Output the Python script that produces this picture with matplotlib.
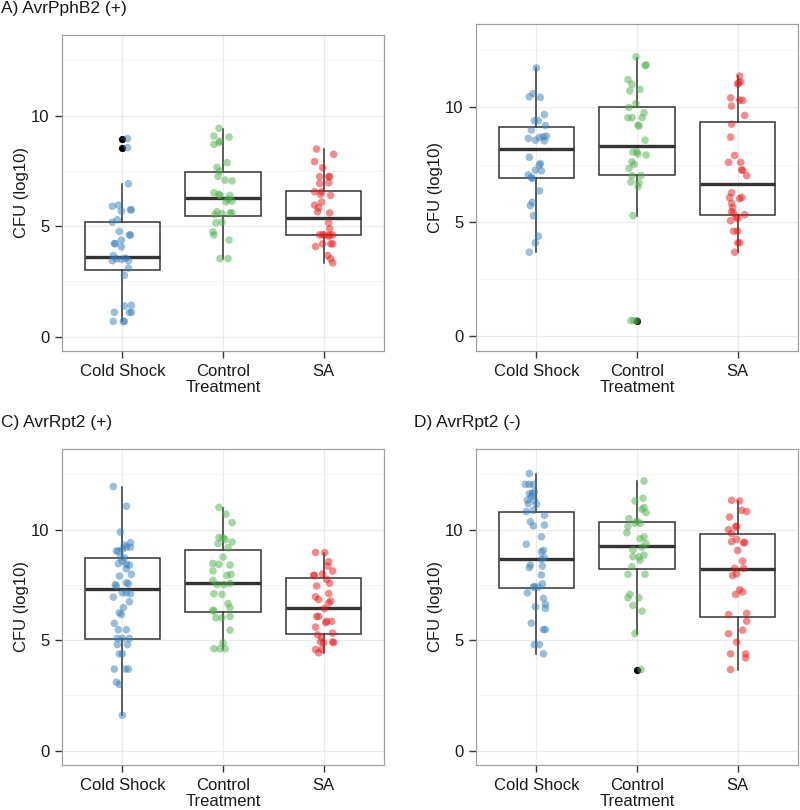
import matplotlib
matplotlib.use("Agg")
import matplotlib.pyplot as plt

plt.rcParams['font.family'] = ['Liberation Sans', 'DejaVu Sans']

groups = ["Cold Shock", "Control\nTreatment", "SA"]
colors = ["#377EB8", "#4DAF4A", "#E41A1C"]
titles = ["A) AvrPphB2 (+)", "", "C) AvrRpt2 (+)", "D) AvrRpt2 (-)"]

# --- panel A: CFU values and jitter offsets ---
a_cold_y = [8.96, 8.55, 6.92, 5.95, 5.9, 5.74, 5.74, 5.68, 5.29, 5.18, 4.76, 4.6, 4.6, 4.37, 4.21, 4.21, 4.06,
            3.67, 3.55, 3.52, 3.49, 3.44, 3.44, 3.1, 2.78, 1.42, 1.39, 1.1, 1.1, 1.1, 0.69, 0.69, 0.69]
a_cold_dx = [0.05, 0.05, 0.06, -0.04, -0.10, 0.09, 0.08, -0.01, -0.05, -0.10, -0.03, 0.08, 0.07, -0.01, -0.07, -0.08, -0.01,
             -0.09, 0.03, -0.06, -0.01, -0.10, 0.06, 0.06, 0.02, 0.09, 0.02, -0.08, 0.09, 0.07, -0.09, 0.01, 0.02]
a_ctrl_y = [9.43, 9.08, 9.03, 8.85, 8.7, 8.78, 7.87, 7.66, 7.49, 7.25, 7.08, 7.05, 6.51, 6.44, 6.39, 6.39, 6.21,
            6.13, 6.1, 5.65, 5.57, 5.6, 5.6, 5.53, 5.15, 5.18, 4.74, 4.6, 4.37, 3.53, 3.53]
a_ctrl_dx = [-0.04, -0.09, 0.06, -0.03, -0.09, -0.04, 0.04, -0.06, -0.03, -0.05, 0.02, 0.09, -0.09, -0.04, -0.03, 0.07, 0.05,
             0.09, 0.03, -0.06, -0.01, 0.07, 0.09, -0.08, -0.07, -0.01, -0.10, -0.09, 0.06, -0.03, 0.05]
a_sa_y = [8.49, 8.25, 7.92, 7.64, 7.24, 7.24, 7.24, 6.93, 6.96, 6.56, 6.56, 6.44, 6.39, 5.95, 6.09, 5.83, 5.65,
          5.6, 5.15, 4.88, 4.6, 4.6, 4.6, 4.6, 4.62, 4.54, 4.08, 4.2, 4.2, 4.2, 3.67, 3.52, 3.34]
a_sa_dx = [-0.07, 0.10, -0.09, -0.01, -0.04, 0.05, 0.06, -0.04, 0.05, -0.09, -0.02, -0.03, 0.07, -0.09, -0.02, -0.05, -0.06,
           0.06, 0.05, 0.06, -0.04, 0.01, 0.06, 0.09, -0.01, 0.05, -0.08, -0.01, 0.07, 0.09, 0.04, 0.07, 0.09]

# --- panel B ---
b_cold_y = [11.73, 10.47, 10.61, 10.44, 9.69, 9.42, 9.42, 9.21, 9.01, 8.65, 8.57, 8.69, 8.54, 8.75, 8.72, 7.82,
            7.55, 7.48, 7.26, 7.23, 7.05, 6.94, 6.89, 6.35, 5.85, 5.71, 5.27, 4.37, 4.08, 3.67]
b_cold_dx = [0.0, -0.07, -0.03, 0.04, 0.08, -0.02, 0.02, 0.09, -0.05, -0.08, -0.01, 0.03, 0.08, 0.10, 0.07, -0.07,
             0.04, 0.03, -0.01, 0.05, -0.08, -0.05, -0.04, 0.03, -0.04, -0.06, -0.03, 0.02, -0.01, -0.07]
b_ctrl_y = [12.21, 11.83, 11.86, 11.22, 11.02, 10.73, 10.79, 10.17, 10.0, 9.77, 9.55, 9.55, 9.55, 9.23, 9.19, 8.57,
            8.06, 8.05, 7.96, 7.92, 7.63, 7.51, 7.34, 7.02, 7.02, 6.74, 6.71, 6.54, 5.27, 0.68, 0.68, 0.68]
b_ctrl_dx = [-0.01, 0.08, 0.09, -0.09, -0.05, -0.07, 0.03, -0.01, -0.08, 0.07, -0.09, -0.05, 0.05, 0.01, 0.02, 0.08,
             0.0, -0.04, 0.01, 0.09, -0.05, -0.03, -0.08, -0.05, 0.04, -0.06, 0.02, 0.01, -0.04, -0.06, -0.03, 0.0]
b_sa_y = [11.37, 11.08, 11.12, 11.02, 10.42, 10.32, 10.31, 10.06, 9.65, 9.27, 8.7, 7.9, 7.6, 7.6, 7.26, 7.26, 7.02,
          6.27, 6.06, 6.01, 6.07, 5.81, 5.63, 5.44, 5.37, 5.31, 5.2, 5.14, 5.05, 4.59, 4.59, 4.09, 4.08, 3.67]
b_sa_dx = [0.02, 0.01, 0.03, 0.0, -0.07, 0.02, 0.05, -0.06, 0.07, -0.06, -0.07, -0.03, -0.09, 0.03, 0.04, 0.05, 0.09,
           -0.06, -0.08, 0.02, 0.04, -0.06, -0.05, -0.06, -0.04, 0.07, -0.01, 0.0, -0.07, -0.04, 0.0, 0.02, 0.0, -0.03]

# --- panel C ---
c_cold_y = [11.95, 11.06, 9.89, 9.3, 9.41, 9.21, 9.21, 9.03, 9.11, 9.03, 8.76, 8.58, 8.73, 8.43, 8.4, 8.46, 8.23,
            7.98, 7.9, 7.52, 7.45, 7.6, 7.55, 6.95, 7.14, 7.14, 7.1, 6.74, 6.47, 6.24, 6.16, 5.76, 5.47, 5.47,
            5.08, 5.08, 5.08, 4.8, 4.8, 4.38, 4.38, 3.69, 3.69, 3.69, 3.1, 3.0, 1.6]
c_cold_dx = [-0.09, 0.04, -0.02, 0.02, 0.08, 0.04, 0.08, -0.04, 0.0, -0.06, -0.02, 0.0, 0.02, 0.04, 0.07, -0.04, 0.04,
             0.09, -0.03, -0.07, -0.06, 0.04, 0.06, -0.09, 0.0, 0.04, 0.08, 0.07, 0.01, -0.03, -0.01, -0.08, -0.04, 0.04,
             -0.05, 0.0, 0.07, -0.05, 0.05, -0.03, 0.0, -0.08, 0.03, 0.06, -0.06, -0.03, 0.0]
c_ctrl_y = [11.01, 10.7, 10.32, 9.64, 9.64, 9.55, 9.37, 9.44, 9.18, 8.76, 8.47, 8.43, 8.4, 8.13, 7.98, 7.93, 7.7,
            7.52, 7.51, 7.57, 7.1, 7.07, 6.65, 6.47, 6.36, 6.31, 6.07, 6.01, 6.01, 5.45, 4.88, 4.61, 4.61, 4.61]
c_ctrl_dx = [-0.04, 0.03, 0.09, -0.04, 0.0, 0.02, -0.05, 0.09, 0.05, 0.0, -0.10, -0.04, 0.07, -0.10, 0.08, 0.04, -0.10,
             -0.06, 0.01, 0.07, -0.09, -0.01, 0.05, 0.07, -0.10, -0.09, 0.07, -0.07, -0.01, 0.07, 0.0, -0.09, -0.03, 0.02]
c_sa_y = [8.97, 8.96, 8.55, 8.35, 8.13, 8.0, 7.93, 7.93, 7.75, 7.57, 7.45, 7.11, 6.96, 6.84, 6.77, 6.68, 6.43,
          6.07, 6.07, 5.85, 5.85, 5.79, 5.59, 5.24, 5.11, 5.32, 4.92, 4.88, 4.92, 4.89, 4.58, 4.43, 4.58]
c_sa_dx = [-0.08, 0.01, 0.05, 0.04, 0.09, -0.01, -0.10, -0.09, 0.03, 0.06, -0.07, 0.05, -0.08, -0.05, 0.07, 0.05, 0.01,
           -0.07, -0.05, 0.03, 0.08, 0.02, -0.08, -0.06, -0.02, 0.09, -0.03, 0.0, 0.09, 0.10, -0.08, -0.05, -0.02]

# --- panel D ---
d_cold_y = [12.54, 12.05, 12.05, 12.05, 11.63, 11.63, 11.5, 11.72, 11.34, 11.33, 11.15, 11.18, 10.82, 10.88, 10.65,
            10.36, 10.17, 10.21, 9.68, 9.34, 9.06, 9.0, 8.73, 8.66, 8.4, 8.28, 8.35, 7.95, 7.55, 7.43, 7.4, 7.4,
            7.14, 6.89, 6.51, 6.62, 6.44, 5.77, 5.48, 5.48, 4.8, 4.8, 4.38]
d_cold_dx = [-0.07, -0.11, -0.07, -0.03, -0.07, -0.04, -0.05, -0.02, -0.09, -0.02, 0.0, -0.08, -0.10, -0.03, 0.08,
             -0.06, -0.03, 0.08, 0.05, -0.10, 0.07, 0.05, 0.08, 0.05, -0.06, -0.07, 0.06, 0.05, 0.06, -0.02, -0.03, 0.02,
             -0.09, 0.07, -0.01, 0.09, 0.09, -0.05, 0.07, 0.09, -0.02, 0.03, 0.07]
d_ctrl_y = [12.2, 11.3, 11.42, 11.0, 10.77, 10.92, 10.5, 10.39, 10.29, 10.29, 10.15, 9.86, 9.67, 9.59, 9.37, 9.21,
            9.08, 8.85, 8.78, 8.76, 8.61, 8.32, 7.98, 7.98, 7.07, 6.92, 6.92, 6.57, 6.31, 5.3, 3.67]
d_ctrl_dx = [0.07, -0.02, 0.06, 0.07, 0.09, 0.05, -0.08, 0.0, 0.03, -0.02, -0.09, -0.10, 0.07, 0.03, 0.09, 0.05,
             -0.04, 0.07, -0.04, 0.02, 0.03, -0.05, -0.09, 0.08, -0.07, -0.09, 0.02, -0.04, 0.05, -0.02, 0.04]
d_sa_y = [11.33, 11.3, 10.88, 10.82, 10.57, 10.14, 10.14, 10.0, 9.82, 9.46, 9.56, 9.4, 9.43, 9.06, 8.58, 8.25, 8.25,
          7.92, 8.0, 7.28, 7.18, 7.07, 6.16, 6.21, 5.86, 5.45, 5.29, 4.91, 4.38, 4.38, 4.2, 3.67]
d_sa_dx = [-0.06, 0.02, 0.04, 0.09, -0.08, -0.02, -0.01, -0.09, -0.06, -0.06, -0.01, 0.06, 0.07, 0.0, 0.05, -0.03, 0.06,
           -0.05, -0.01, 0.02, 0.05, -0.02, -0.09, 0.09, 0.09, 0.05, -0.09, -0.01, -0.07, 0.08, 0.08, -0.07]

# --- box statistics as drawn (q1, median, q3, lower whisker, upper whisker) ---
a_box = [(3.0, 3.6, 5.18, 0.69, 6.92), (5.48, 6.27, 7.45, 3.53, 9.41), (4.59, 5.38, 6.57, 3.34, 8.47)]
b_box = [(6.9, 8.17, 9.16, 3.67, 11.73), (7.05, 8.31, 10.03, 5.27, 12.18), (5.3, 6.64, 9.35, 3.67, 11.37)]
c_box = [(5.06, 7.3, 8.7, 1.6, 11.93), (6.27, 7.6, 9.06, 4.61, 10.97), (5.26, 6.45, 7.81, 4.41, 8.96)]
d_box = [(7.36, 8.66, 10.79, 4.38, 12.51), (8.23, 9.24, 10.36, 5.3, 12.18), (6.07, 8.23, 9.79, 3.67, 11.3)]
a_out = [[8.96, 8.55], [], []]
b_out = [[], [0.68], []]
c_out = [[], [], []]
d_out = [[], [3.67], []]

panels = [
    ([(a_cold_y, a_cold_dx), (a_ctrl_y, a_ctrl_dx), (a_sa_y, a_sa_dx)], a_box, a_out),
    ([(b_cold_y, b_cold_dx), (b_ctrl_y, b_ctrl_dx), (b_sa_y, b_sa_dx)], b_box, b_out),
    ([(c_cold_y, c_cold_dx), (c_ctrl_y, c_ctrl_dx), (c_sa_y, c_sa_dx)], c_box, c_out),
    ([(d_cold_y, d_cold_dx), (d_ctrl_y, d_ctrl_dx), (d_sa_y, d_sa_dx)], d_box, d_out),
]

W, H = 800, 810
# axes rectangles in pixels: left, top, right, bottom
rects = [(62, 35, 384, 351), (476, 24, 798, 351), (62, 449, 384, 765), (476, 449, 798, 765)]
title_pos = [(1, 8), None, (1, 422), (414, 422)]

fig = plt.figure(figsize=(W / 100, H / 100), dpi=100)

for i, (series, box, outs) in enumerate(panels):
    l, t, r, b = rects[i]
    ax = fig.add_axes([l / W, 1 - b / H, (r - l) / W, (b - t) / H])

    stats = []
    for k, (q1, med, q3, lo, hi) in enumerate(box):
        stats.append(dict(q1=q1, med=med, q3=q3, whislo=lo, whishi=hi, fliers=outs[k]))
    ax.bxp(stats, positions=[1, 2, 3], widths=0.75, showcaps=False, patch_artist=True,
           boxprops=dict(facecolor="none", edgecolor="#333333", linewidth=1.1),
           whiskerprops=dict(color="#333333", linewidth=1.1),
           medianprops=dict(color="#333333", linewidth=2.4, solid_capstyle="butt"),
           flierprops=dict(marker="o", markerfacecolor="black", markeredgecolor="none", markersize=5.2),
           zorder=2)

    for k, (ys, dxs) in enumerate(series):
        xs = [k + 1 + d for d in dxs]
        ax.scatter(xs, ys, s=30, color=colors[k], alpha=0.5, edgecolors="none", zorder=3)

    ax.set_xlim(0.4, 3.6)
    ax.set_ylim(-0.65, 13.65)
    ax.set_xticks([1, 2, 3])
    ax.set_xticklabels(groups, fontsize=12, color="#1a1a1a", linespacing=1.1)
    ax.set_yticks([0, 5, 10])
    ax.set_yticks([2.5, 7.5, 12.5], minor=True)
    ax.tick_params(axis="both", which="major", length=5, width=1.0, color="#333333", labelsize=12,
                   labelcolor="#1a1a1a", pad=4)
    ax.tick_params(axis="y", which="minor", length=0)
    ax.grid(True, which="major", color="#EBEBEB", linewidth=0.9, zorder=0)
    ax.grid(True, which="minor", axis="y", color="#F4F4F4", linewidth=0.6, zorder=0)
    ax.set_axisbelow(True)
    for sp in ax.spines.values():
        sp.set_color("#A0A0A0")
        sp.set_linewidth(0.9)
    ax.set_ylabel("CFU (log10)", fontsize=12, color="#1a1a1a", labelpad=1.5)

    if title_pos[i] is not None and titles[i]:
        tx, ty = title_pos[i]
        fig.text(tx / W, 1 - ty / H, titles[i], fontsize=12.5, ha="left", va="center", color="#1a1a1a")

fig.savefig("out.png", dpi=100)
